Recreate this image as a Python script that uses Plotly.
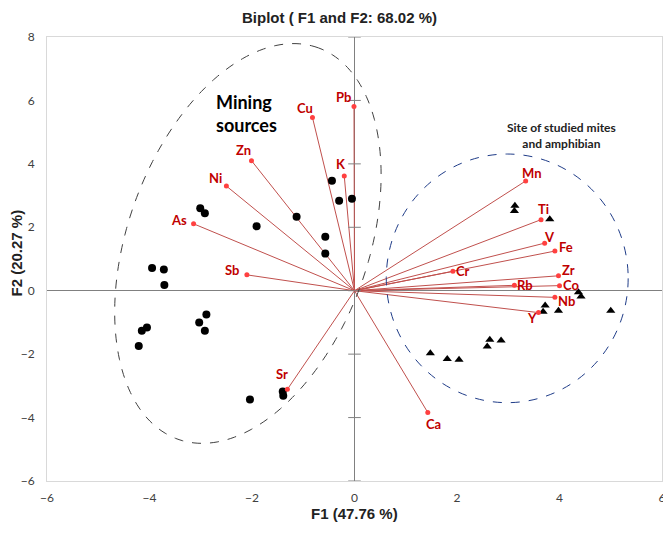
import numpy as np
import plotly.graph_objects as go

# Variable loadings (F1, F2)
var_names = ["Pb", "Cu", "K", "Zn", "Ni", "As", "Sb", "Sr", "Ca", "Mn",
             "Ti", "V", "Fe", "Cr", "Zr", "Rb", "Co", "Nb", "Y"]
var_f1 = [-0.01, -0.82, -0.20, -2.01, -2.50, -3.14, -2.10, -1.31, 1.43, 3.34,
          3.64, 3.71, 3.91, 1.92, 3.98, 3.12, 4.00, 3.91, 3.59]
var_f2 = [5.81, 5.46, 3.62, 4.10, 3.30, 2.11, 0.50, -3.11, -3.84, 3.46,
          2.24, 1.50, 1.25, 0.61, 0.47, 0.17, 0.16, -0.21, -0.69]

# Mining source observations (circles)
mine_f1 = [-0.44, -0.30, -0.05, -3.01, -2.92, -1.13, -1.91, -0.57, -0.57, -3.95, -3.72,
           -3.71, -2.89, -3.03, -2.92, -4.05, -4.15, -4.21, -2.04, -1.40, -1.39]
mine_f2 = [3.47, 2.84, 2.90, 2.60, 2.44, 2.33, 2.03, 1.70, 1.17, 0.72, 0.67,
           0.18, -0.75, -1.00, -1.26, -1.16, -1.26, -1.74, -3.43, -3.18, -3.31]

# Site observations (triangles)
site_f1 = [3.13, 3.12, 3.81, 4.37, 4.42, 3.72, 3.68, 3.98, 5.00, 2.64, 2.59, 2.86,
           1.48, 1.81, 2.04]
site_f2 = [2.68, 2.51, 2.25, -0.05, -0.18, -0.47, -0.66, -0.63, -0.63, -1.55, -1.76,
           -1.57, -1.97, -2.15, -2.18]

x_ticks = [-6, -4, -2, 0, 2, 4, 6]
y_ticks = [-6, -4, -2, 0, 2, 4, 6, 8]

# label offsets in pixels (right, down)
label_shift = {"Pb": (-10, -9), "Cu": (-7, -10), "K": (-3, -12), "Zn": (-8, -11),
               "Ni": (-11, -8), "As": (-15, -4), "Sb": (-15, -5), "Sr": (-5, -15),
               "Ca": (6, 11), "Mn": (6, -8), "Ti": (2, -11), "V": (5, -6),
               "Fe": (11, -4), "Cr": (10, 0), "Zr": (10, -6), "Rb": (11, 0),
               "Co": (11, -1), "Nb": (12, 4), "Y": (-6, 5)}

DARK_RED = "#C00000"
LINE_RED = "#C0504D"
DOT_RED = "#FF4040"
FONT = "Lato, Open Sans, sans-serif"
ARIAL = "Liberation Sans, Arial, sans-serif"

fig = go.Figure()

# vectors from origin
vx, vy = [], []
for a, b in zip(var_f1, var_f2):
    vx += [0, a, None]
    vy += [0, b, None]
fig.add_trace(go.Scatter(x=vx, y=vy, mode="lines", line=dict(color=LINE_RED, width=1),
                         hoverinfo="skip", showlegend=False))

# tick marks on the vertical zero line
fig.add_trace(go.Scatter(x=[0] * len(y_ticks), y=y_ticks, mode="markers",
                         marker=dict(symbol="line-ew", size=9, line=dict(color="#808080", width=1)),
                         hoverinfo="skip", showlegend=False))

fig.add_trace(go.Scatter(x=mine_f1, y=mine_f2, mode="markers",
                         marker=dict(symbol="circle", size=8, color="black"), showlegend=False))
fig.add_trace(go.Scatter(x=site_f1, y=site_f2, mode="markers",
                         marker=dict(symbol="triangle-up", size=8, color="black"), showlegend=False))
fig.add_trace(go.Scatter(x=var_f1, y=var_f2, mode="markers",
                         marker=dict(size=5, color=DOT_RED), showlegend=False))

for name, a, b in zip(var_names, var_f1, var_f2):
    dx, dy = label_shift[name]
    fig.add_annotation(x=a, y=b, text="<b>%s</b>" % name, showarrow=False,
                       xshift=dx, yshift=-dy,
                       font=dict(family=FONT, size=13, color=DARK_RED))

# rotated dashed ellipse around mining sources (built in screen-pixel units)
SX, SY = 51.6, 31.7
cx, cy, ea, eb, phi = -2.08, 1.49, 208.0, 121.0, np.radians(70.0)
t = np.linspace(0, 2 * np.pi, 200)
ex = cx + (ea * np.cos(t) * np.cos(phi) - eb * np.sin(t) * np.sin(phi)) / SX
ey = cy + (ea * np.cos(t) * np.sin(phi) + eb * np.sin(t) * np.cos(phi)) / SY
path = "M " + " L ".join("%.4f,%.4f" % (p, q) for p, q in zip(ex, ey)) + " Z"
fig.add_shape(type="path", path=path, xref="x", yref="y",
              line=dict(color="#404040", width=1, dash="dash"))

# dashed circle around the study site
fig.add_shape(type="circle", xref="x", yref="y", x0=2.98 - 2.36, x1=2.98 + 2.36,
              y0=0.39 - 3.92, y1=0.39 + 3.92,
              line=dict(color="#1F3C88", width=1, dash="dash"))

fig.add_annotation(x=-2.11, y=5.6, text="<b>Mining<br>sources</b>", showarrow=False,
                   align="left", font=dict(family=FONT, size=18, color="black"))
fig.add_annotation(x=4.03, y=4.88, text="<b>Site of studied mites<br>and amphibian</b>",
                   showarrow=False, align="center",
                   font=dict(family=FONT, size=12, color="#222222"))

# axis titles
fig.add_annotation(x=0.5, y=0, xref="paper", yref="paper", yanchor="top", yshift=-22,
                   text="<b>F1 (47.76 %)</b>", showarrow=False,
                   font=dict(family=ARIAL, size=15, color="#222222"))
fig.add_annotation(x=0, y=0.5, xref="paper", yref="paper", xanchor="right", xshift=-21,
                   yshift=6, textangle=-90, text="<b>F2 (20.27 %)</b>", showarrow=False,
                   font=dict(family=ARIAL, size=15, color="#222222"))

fig.update_xaxes(range=[-6, 6], tickvals=x_ticks, showgrid=False,
                 zeroline=True, zerolinecolor="#808080", zerolinewidth=1,
                 showline=True, mirror=True, linecolor="#D9D9D9", linewidth=1,
                 ticks="outside", ticklen=6, tickcolor="rgba(0,0,0,0)",
                 tickfont=dict(family=FONT, size=12, color="#404040"))
fig.update_yaxes(range=[-6, 8], tickvals=y_ticks, showgrid=False,
                 zeroline=True, zerolinecolor="#808080", zerolinewidth=1,
                 showline=True, mirror=True, linecolor="#D9D9D9", linewidth=1,
                 ticks="outside", ticklen=9, tickcolor="rgba(0,0,0,0)",
                 tickfont=dict(family=FONT, size=12, color="#404040"))

# page body adds an 8px margin, so the figure is drawn slightly smaller and offset
fig.update_layout(
    width=663, height=525,
    margin=dict(l=39, r=5, t=29, b=52),
    paper_bgcolor="white", plot_bgcolor="white",
    title=dict(text="<b>Biplot ( F1 and F2: 68.02 %)</b>", x=0.5, xanchor="center",
               y=1 - 4 / 525, yanchor="top", yref="container",
               font=dict(family=ARIAL, size=15, color="#222222")),
)

fig.write_html("out.html")
